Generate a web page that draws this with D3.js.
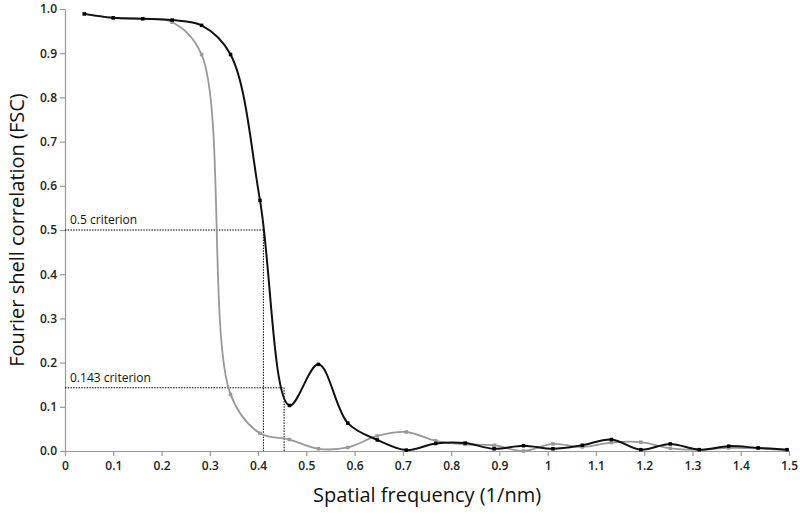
<!DOCTYPE html>
<html>
<head>
<meta charset="utf-8">
<script src="https://cdnjs.cloudflare.com/ajax/libs/d3/7.8.5/d3.min.js"></script>
<style>
  body { margin: 0; background: #fff; }
  svg { display: block; }
  .tick text { font-family: "Open Sans", sans-serif; font-weight: 600; font-size: 12px; fill: #222; }
</style>
</head>
<body>
<svg width="800" height="514"></svg>
<script>
// spatial frequency samples (1/nm)
var freq = [0.040, 0.100, 0.161, 0.222, 0.283, 0.343, 0.404, 0.465, 0.525, 0.586, 0.647, 0.707, 0.768,
            0.829, 0.889, 0.950, 1.011, 1.072, 1.132, 1.193, 1.254, 1.314, 1.375, 1.436, 1.496];
// FSC curves
var fscBlack = [0.989, 0.980, 0.978, 0.975, 0.963, 0.897, 0.567, 0.103, 0.196, 0.063, 0.025, 0.002, 0.017,
                0.018, 0.005, 0.012, 0.005, 0.013, 0.026, 0.003, 0.016, 0.003, 0.011, 0.007, 0.003];
var fscGray = [0.989, 0.980, 0.978, 0.970, 0.897, 0.128, 0.040, 0.026, 0.005, 0.008, 0.034, 0.043, 0.023,
               0.015, 0.013, 0.000, 0.016, 0.009, 0.019, 0.020, 0.006, 0.003, 0.007, 0.006, 0.002];
var xTicks = [0, 0.1, 0.2, 0.3, 0.4, 0.5, 0.6, 0.7, 0.8, 0.9, 1, 1.1, 1.2, 1.3, 1.4, 1.5];
var yTicks = [0, 0.1, 0.2, 0.3, 0.4, 0.5, 0.6, 0.7, 0.8, 0.9, 1.0];
// criteria: threshold and resolution where black curve crosses it
var criteria = [
  { label: "0.5 criterion", fsc: 0.5, freq: 0.411 },
  { label: "0.143 criterion", fsc: 0.143, freq: 0.454 }
];

var svg = d3.select("svg"),
    width = 800,
    height = 514,
    margin = { top: 9, right: 11, bottom: 63, left: 65 };

var x = d3.scaleLinear().domain([0, 1.5]).range([margin.left, width - margin.right]);
var y = d3.scaleLinear().domain([0, 1]).range([height - margin.bottom, margin.top]);

var xAxis = d3.axisBottom(x).tickValues(xTicks).tickSize(5).tickPadding(5).tickSizeOuter(0)
    .tickFormat(d => d3.format("")(+d.toFixed(1)));
var yAxis = d3.axisLeft(y).tickValues(yTicks).tickSize(5).tickPadding(3).tickSizeOuter(0)
    .tickFormat(d3.format(".1f"));

var gx = svg.append("g")
    .attr("transform", `translate(0,${y(0)})`)
    .call(xAxis);
var gy = svg.append("g")
    .attr("transform", `translate(${x(0)},0)`)
    .call(yAxis);
[gx, gy].forEach(g => {
    g.select(".domain").attr("stroke", "#999").attr("stroke-width", 1.2);
    g.selectAll(".tick line").attr("stroke", "#999").attr("stroke-width", 1.2);
});

// criterion lines
criteria.forEach(c => {
    svg.append("path")
        .attr("d", `M${x(0)},${y(c.fsc)}H${x(c.freq)}V${y(0)}`)
        .attr("fill", "none")
        .attr("stroke", "#000")
        .attr("stroke-width", 1)
        .attr("stroke-dasharray", "1.5,1.2");
    svg.append("text")
        .attr("x", x(0) + 5)
        .attr("y", y(c.fsc) - 6)
        .attr("font-family", "Open Sans, sans-serif")
        .attr("font-size", 12)
        .attr("fill", "#111")
        .text(c.label);
});

var line = d3.line()
    .x((d, i) => x(freq[i]))
    .y(d => y(d))
    .curve(d3.curveCatmullRom.alpha(0.5));

// gray curve
svg.append("path")
    .datum(fscGray)
    .attr("d", line)
    .attr("fill", "none")
    .attr("stroke", "#999")
    .attr("stroke-width", 1.8);
svg.selectAll(".mgray")
    .data(fscGray)
    .enter().append("rect")
    .attr("class", "mgray")
    .attr("x", (d, i) => x(freq[i]) - 1.75)
    .attr("y", d => y(d) - 1.75)
    .attr("width", 3.5)
    .attr("height", 3.5)
    .attr("fill", "#999");

// black curve
svg.append("path")
    .datum(fscBlack)
    .attr("d", line)
    .attr("fill", "none")
    .attr("stroke", "#111")
    .attr("stroke-width", 2);
svg.selectAll(".mblack")
    .data(fscBlack)
    .enter().append("rect")
    .attr("class", "mblack")
    .attr("x", (d, i) => x(freq[i]) - 1.75)
    .attr("y", d => y(d) - 1.75)
    .attr("width", 3.5)
    .attr("height", 3.5)
    .attr("fill", "#000");

// axis titles
svg.append("text")
    .attr("x", (x(0) + x(1.5)) / 2)
    .attr("y", 502)
    .attr("text-anchor", "middle")
    .attr("font-family", "Open Sans, sans-serif")
    .attr("font-size", 20)
    .attr("fill", "#111")
    .text("Spatial frequency (1/nm)");

svg.append("text")
    .attr("transform", `translate(24,${(y(0) + y(1)) / 2}) rotate(-90)`)
    .attr("text-anchor", "middle")
    .attr("font-family", "Open Sans, sans-serif")
    .attr("font-size", 20)
    .attr("fill", "#111")
    .text("Fourier shell correlation (FSC)");
</script>
</body>
</html>
